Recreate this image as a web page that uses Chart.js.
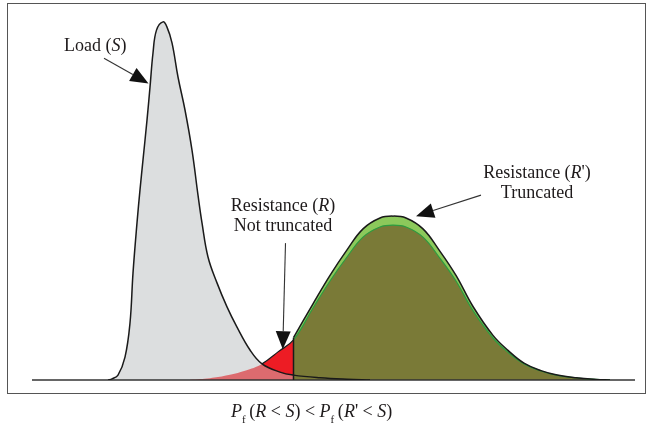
<!DOCTYPE html>
<html><head><meta charset="utf-8">
<script src="https://cdn.jsdelivr.net/npm/chart.js@4.4.1/dist/chart.umd.min.js"></script>
<style>
html,body{margin:0;padding:0;background:#fff;}
#wrap{position:relative;width:648px;height:430px;overflow:hidden;}
#frame{position:absolute;left:7px;top:3px;width:639px;height:391px;border:1.5px solid #555;box-sizing:border-box;}
canvas{position:absolute;left:0;top:0;}
.lbl{position:absolute;font-family:'Liberation Serif','Times New Roman',serif;font-size:18px;line-height:20px;color:#1e1a1b;white-space:nowrap;text-align:center;}
.lbl sub{font-size:11px;vertical-align:-6px;line-height:0;}
</style></head>
<body>
<div id="wrap">
  <div id="frame"></div>
  <canvas id="c" width="648" height="430"></canvas>
  <div class="lbl" style="left:64px;top:35px;">Load (<i>S</i>)</div>
  <div class="lbl" style="left:218px;top:195px;width:130px;">Resistance (<i>R</i>)<br>Not truncated</div>
  <div class="lbl" style="left:472px;top:162px;width:130px;">Resistance (<i>R</i>')<br>Truncated</div>
  <div class="lbl" style="left:231px;top:401px;"><i>P</i><sub>f</sub>&#8201;(<i>R</i> &lt; <i>S</i>) &lt; <i>P</i><sub>f</sub>&#8201;(<i>R</i>' &lt; <i>S</i>)</div>
</div>
<script>
// Load (S) density
const loadX = [15.2, 16.0, 17.2, 18.6, 19.6, 20.2, 21.0, 21.6, 22.2, 23.0, 23.6, 24.2, 24.9, 26.2, 27.0, 28.0, 29.2, 30.6, 32.0, 33.2, 34.0, 35.2, 37.0, 39.0, 41.0, 43.6, 46.0, 49.6, 52.3, 57.6, 63.0, 67.6];
const loadY = [0, 0.003, 0.013, 0.061, 0.152, 0.285, 0.419, 0.507, 0.587, 0.693, 0.781, 0.872, 0.933, 0.955, 0.941, 0.899, 0.808, 0.720, 0.613, 0.493, 0.419, 0.328, 0.259, 0.195, 0.141, 0.080, 0.043, 0.021, 0.013, 0.006, 0.002, 0];
// Resistance (R) not truncated
const resX = [31.6, 35.6, 38.8, 42.6, 46.0, 49.2, 52.3, 56.2, 59.6, 63.0, 66.2, 69.6, 72.2, 74.8, 78.2, 81.4, 84.8, 88.2, 92.2, 95.2, 98.4, 101.8, 104.8, 108.8, 112.8, 115.6];
const resY = [0.001, 0.005, 0.012, 0.025, 0.043, 0.075, 0.107, 0.192, 0.264, 0.328, 0.381, 0.408, 0.413, 0.408, 0.381, 0.328, 0.264, 0.185, 0.112, 0.074, 0.043, 0.024, 0.013, 0.006, 0.0015, 0];
// Resistance (R') truncated
const resTX = [52.3, 56.2, 59.6, 63.0, 66.2, 69.6, 72.2, 74.8, 78.2, 81.4, 84.8, 88.2, 92.2, 95.2, 98.4, 101.8, 104.8, 108.8, 112.8, 115.6];
const resTY = [0.113, 0.203, 0.279, 0.347, 0.403, 0.432, 0.437, 0.432, 0.403, 0.347, 0.279, 0.196, 0.119, 0.079, 0.045, 0.025, 0.014, 0.006, 0.0015, 0];
const crossX = 46.0;   // where R meets S
const truncX = 52.3;   // truncation point of R'
const truncBase = [0, 0.113];

const pts = (xs, ys) => xs.map((x, i) => ({x, y: ys[i]}));

const C = {
  grey: '#dcdedf', pink: '#dc6b6f', red: '#ed1c24', olive: '#7a7a37',
  green: '#8cc95b', dgreen: '#2d9c40', line: '#1a1a1a'
};

const arrows = [
  {from: [14.4, 0.858], to: [23.3, 0.791]},
  {from: [50.7, 0.365], to: [50.15, 0.082]},
  {from: [89.8, 0.493], to: [76.8, 0.437]}
];

const base = {type: 'line', pointRadius: 0, tension: 0.4, borderWidth: 0};

const datasets = [
  {...base, data: pts(loadX, loadY), fill: 'origin', backgroundColor: C.grey, borderColor: 'transparent', order: 10},
  {...base, data: pts(resTX, resTY), fill: 'origin', backgroundColor: C.green, borderColor: 'transparent', order: 9},
  {...base, data: pts(resX, resY), fill: 'origin', backgroundColor: C.olive, borderWidth: 1.2,
    segment: {
      backgroundColor: c => c.p1.parsed.x <= crossX ? C.pink : (c.p1.parsed.x <= truncX ? C.red : C.olive),
      borderColor: c => c.p1.parsed.x <= crossX ? 'transparent' : (c.p1.parsed.x <= truncX ? C.line : C.dgreen)
    }, order: 8},
  {...base, data: pts(loadX, loadY), fill: 'origin', backgroundColor: 'transparent', borderColor: C.line, borderWidth: 1.5,
    segment: {
      backgroundColor: c => (c.p0.parsed.x >= crossX && c.p1.parsed.x <= truncX) ? C.pink : 'transparent'
    }, order: 3},
  {...base, data: pts(resTX, resTY), fill: false, borderColor: C.line, borderWidth: 1.5, order: 2},
  {...base, data: truncBase.map(y => ({x: truncX, y})), fill: false, borderColor: C.line, borderWidth: 1.5, tension: 0, order: 1}
];

const deco = {
  id: 'deco',
  beforeDatasetsDraw(chart) {
    const {ctx, chartArea: a, scales: {y}} = chart;
    ctx.save();
    ctx.strokeStyle = '#333';
    ctx.lineWidth = 1.3;
    ctx.beginPath();
    const yb = y.getPixelForValue(0);
    ctx.moveTo(a.left, yb); ctx.lineTo(a.right, yb);
    ctx.stroke();
    ctx.restore();
  },
  afterDatasetsDraw(chart) {
    const {ctx, scales: {x, y}} = chart;
    ctx.save();
    for (const ar of arrows) {
      const x0 = x.getPixelForValue(ar.from[0]), y0 = y.getPixelForValue(ar.from[1]);
      const x1 = x.getPixelForValue(ar.to[0]), y1 = y.getPixelForValue(ar.to[1]);
      const ang = Math.atan2(y1 - y0, x1 - x0);
      const L = 18, W = 7.5;
      const bx = x1 - L * Math.cos(ang), by = y1 - L * Math.sin(ang);
      ctx.strokeStyle = '#333'; ctx.lineWidth = 1.1;
      ctx.beginPath(); ctx.moveTo(x0, y0); ctx.lineTo(bx, by); ctx.stroke();
      ctx.fillStyle = '#111';
      ctx.beginPath();
      ctx.moveTo(x1, y1);
      ctx.lineTo(bx + W * Math.sin(ang), by - W * Math.cos(ang));
      ctx.lineTo(bx - W * Math.sin(ang), by + W * Math.cos(ang));
      ctx.closePath(); ctx.fill();
    }
    ctx.restore();
  }
};

new Chart(document.getElementById('c'), {
  type: 'line',
  data: {datasets},
  options: {
    responsive: false, animation: false, events: [],
    layout: {padding: {left: 32, right: 13, top: 5, bottom: 50}},
    scales: {
      x: {type: 'linear', min: 0, max: 120.6, display: false},
      y: {type: 'linear', min: 0, max: 1, display: false}
    },
    plugins: {legend: {display: false}, tooltip: {enabled: false}, filler: {drawTime: 'beforeDatasetsDraw'}}
  },
  plugins: [deco]
});
</script>
</body></html>
